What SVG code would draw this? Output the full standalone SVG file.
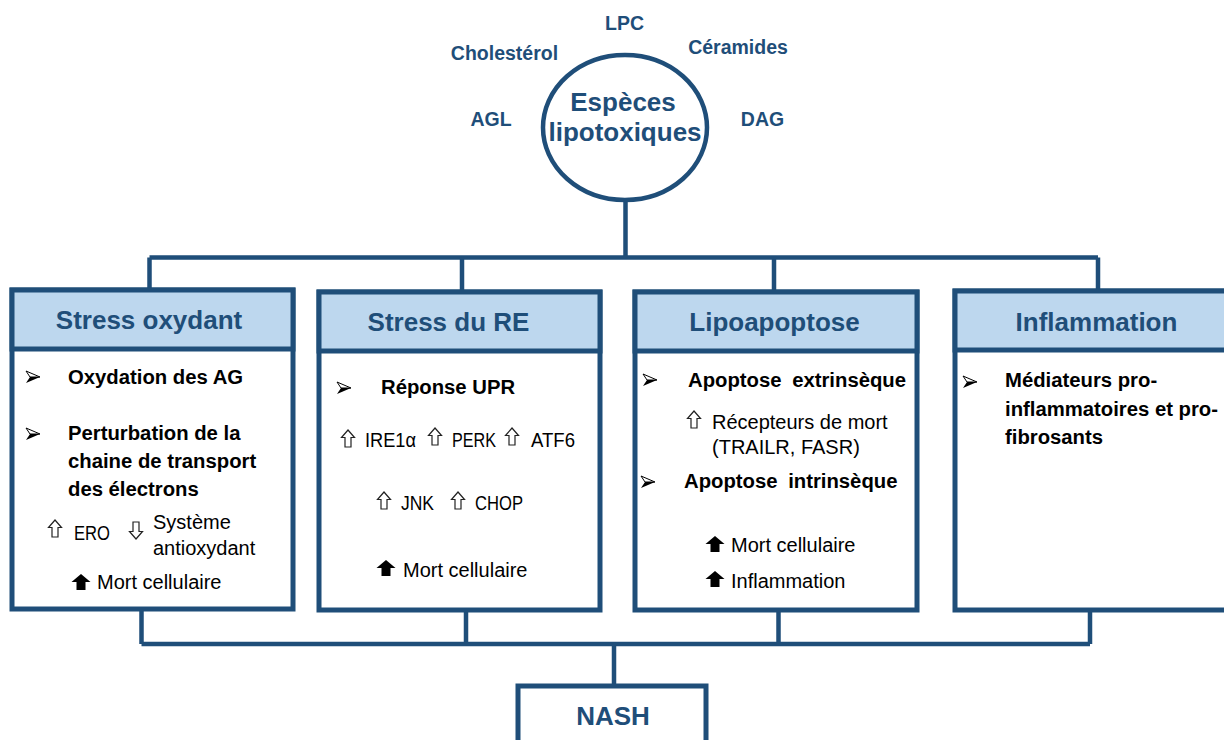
<svg xmlns="http://www.w3.org/2000/svg" xmlns:xlink="http://www.w3.org/1999/xlink" width="1224" height="740" viewBox="0 0 1224 740">
<style>
.frame{fill:#fff;stroke:#1F4E79;stroke-width:5}
.head{fill:#BDD7EE;stroke:#1F4E79;stroke-width:5}
.conn{fill:none;stroke:#1F4E79;stroke-width:4.5}
.ht{font-family:"Liberation Sans",Arial,sans-serif;font-weight:bold;font-size:26px;fill:#1F4E79;text-anchor:middle}
.lab{font-family:"Liberation Sans",Arial,sans-serif;font-weight:bold;font-size:19.5px;fill:#1F4E79;text-anchor:middle}
.b{font-family:"Liberation Sans",Arial,sans-serif;font-weight:bold;font-size:20.3px;fill:#000}
.r{font-family:"Liberation Sans",Arial,sans-serif;font-size:20px;fill:#000}
</style>
<defs>
<g id="bullet"><path d="M0,0 L14,6 L4,6 Z" fill="#fff" stroke="#000" stroke-width="1"/><path d="M0,12 L14,6 L4,6 Z" fill="#000"/></g>
<path id="up" d="M0,0 L6.5,7.5 L3,7.5 L3,17 L-3,17 L-3,7.5 L-6.5,7.5 Z" fill="#fff" stroke="#222" stroke-width="1.2"/>
<path id="down" d="M0,17 L6.5,9.5 L3,9.5 L3,0 L-3,0 L-3,9.5 L-6.5,9.5 Z" fill="#fff" stroke="#222" stroke-width="1.2"/>
<path id="bup" d="M0,0 L9.5,8 L4.5,8 L4.5,16 L-4.5,16 L-4.5,8 L-9.5,8 Z" fill="#000"/>
</defs>

<g id="connectors">
<path class="conn" d="M625.5,200 V257.5 M149.5,257.5 H1098 M149.5,257.5 V290 M462,257.5 V290 M774,257.5 V290 M1098,257.5 V290"/>
<path class="conn" d="M141.5,609 V644 M466,609 V644 M778.5,609 V644 M1090,609 V644 M141.5,644 H1090 M614,644 V686"/>
</g>

<g id="lipotox">
<ellipse cx="625" cy="127.5" rx="82" ry="72.5" fill="#fff" stroke="#1F4E79" stroke-width="4.5"/>
<text class="ht" x="623" y="111">Espèces</text>
<text class="ht" x="625" y="141">lipotoxiques</text>
</g>
<g id="labels">
<text class="lab" x="624.5" y="30">LPC</text>
<text class="lab" x="504.5" y="60">Cholestérol</text>
<text class="lab" x="738" y="54">Céramides</text>
<text class="lab" x="491" y="126">AGL</text>
<text class="lab" x="762.5" y="126">DAG</text>
</g>

<g id="stress-oxydant">
<rect class="frame" x="12" y="290" width="281" height="319"/>
<rect class="head" x="12" y="290" width="281" height="59"/>
<text class="ht" x="149" y="329">Stress oxydant</text>
<use xlink:href="#bullet" x="26" y="371"/>
<text class="b" x="68" y="384">Oxydation des AG</text>
<use xlink:href="#bullet" x="26" y="428"/>
<text class="b" x="68" y="440">Perturbation de la</text>
<text class="b" x="68" y="468">chaine de transport</text>
<text class="b" x="68" y="496">des électrons</text>
<use xlink:href="#up" x="55" y="520"/>
<text class="r" x="74" y="540" textLength="36" lengthAdjust="spacingAndGlyphs">ERO</text>
<use xlink:href="#down" x="136" y="522"/>
<text class="r" x="153" y="529">Système</text>
<text class="r" x="153" y="555">antioxydant</text>
<use xlink:href="#bup" x="81" y="574"/>
<text class="r" x="97" y="589">Mort cellulaire</text>
</g>

<g id="stress-re">
<rect class="frame" x="319" y="292" width="281" height="318"/>
<rect class="head" x="319" y="292" width="281" height="59"/>
<text class="ht" x="448.5" y="331">Stress du RE</text>
<use xlink:href="#bullet" x="337" y="382"/>
<text class="b" x="381" y="394">Réponse UPR</text>
<use xlink:href="#up" x="348" y="430"/>
<text class="r" x="365" y="447" textLength="51" lengthAdjust="spacingAndGlyphs">IRE1α</text>
<use xlink:href="#up" x="435" y="428"/>
<text class="r" x="452" y="447" textLength="44" lengthAdjust="spacingAndGlyphs">PERK</text>
<use xlink:href="#up" x="512" y="428"/>
<text class="r" x="531" y="447" textLength="44" lengthAdjust="spacingAndGlyphs">ATF6</text>
<use xlink:href="#up" x="384" y="492"/>
<text class="r" x="401" y="510" textLength="33" lengthAdjust="spacingAndGlyphs">JNK</text>
<use xlink:href="#up" x="458" y="492"/>
<text class="r" x="475" y="510" textLength="48" lengthAdjust="spacingAndGlyphs">CHOP</text>
<use xlink:href="#bup" x="386" y="560"/>
<text class="r" x="403" y="577">Mort cellulaire</text>
</g>

<g id="lipoapoptose">
<rect class="frame" x="635" y="292" width="282" height="318"/>
<rect class="head" x="635" y="292" width="282" height="59"/>
<text class="ht" x="774.5" y="331">Lipoapoptose</text>
<use xlink:href="#bullet" x="643" y="374"/>
<text class="b" x="688" y="387" word-spacing="5">Apoptose extrinsèque</text>
<use xlink:href="#up" x="694" y="411"/>
<text class="r" x="712" y="429">Récepteurs de mort</text>
<text class="r" x="712" y="454">(TRAILR, FASR)</text>
<use xlink:href="#bullet" x="641" y="476"/>
<text class="b" x="684" y="488" word-spacing="5">Apoptose intrinsèque</text>
<use xlink:href="#bup" x="715" y="536"/>
<text class="r" x="731" y="552">Mort cellulaire</text>
<use xlink:href="#bup" x="715" y="571"/>
<text class="r" x="731" y="588">Inflammation</text>
</g>

<g id="inflammation">
<rect class="frame" x="955" y="291" width="280" height="319"/>
<rect class="head" x="955" y="291" width="280" height="59"/>
<text class="ht" x="1096.5" y="331">Inflammation</text>
<use xlink:href="#bullet" x="963" y="376"/>
<text class="b" x="1005" y="387">Médiateurs pro-</text>
<text class="b" x="1005" y="416">inflammatoires et pro-</text>
<text class="b" x="1005" y="444">fibrosants</text>
</g>

<g id="nash">
<rect class="frame" x="518" y="686" width="188" height="80"/>
<text class="ht" x="613" y="725">NASH</text>
</g>
</svg>
